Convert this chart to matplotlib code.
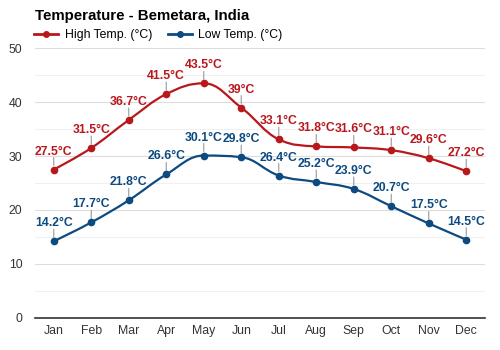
import numpy as np
import matplotlib.pyplot as plt
from matplotlib.path import Path
from matplotlib.patches import PathPatch
from matplotlib.lines import Line2D

months = ["Jan", "Feb", "Mar", "Apr", "May", "Jun", "Jul", "Aug", "Sep", "Oct", "Nov", "Dec"]
high_temp = [27.5, 31.5, 36.7, 41.5, 43.5, 39, 33.1, 31.8, 31.6, 31.1, 29.6, 27.2]
low_temp = [14.2, 17.7, 21.8, 26.6, 30.1, 29.8, 26.4, 25.2, 23.9, 20.7, 17.5, 14.5]

red = "#b8171c"
blue = "#0c4a80"
font = "Liberation Sans"


def spline_path(x, y, smoothing=1.5):
    # cubic bezier through the points, same control point rule as a highcharts spline
    x = [float(v) for v in x]
    y = [float(v) for v in y]
    n = len(x)
    left = [None] * n
    right = [None] * n
    for i in range(n):
        if i == 0 or i == n - 1:
            left[i] = right[i] = (x[i], y[i])
            continue
        d = smoothing + 1
        lx, ly = (smoothing * x[i] + x[i - 1]) / d, (smoothing * y[i] + y[i - 1]) / d
        rx, ry = (smoothing * x[i] + x[i + 1]) / d, (smoothing * y[i] + y[i + 1]) / d
        corr = (ry - ly) * (rx - x[i]) / (rx - lx) + y[i] - ry
        ly += corr
        ry += corr
        if ly > max(y[i - 1], y[i]):
            ly = max(y[i - 1], y[i])
            ry = 2 * y[i] - ly
        elif ly < min(y[i - 1], y[i]):
            ly = min(y[i - 1], y[i])
            ry = 2 * y[i] - ly
        if ry > max(y[i + 1], y[i]):
            ry = max(y[i + 1], y[i])
            ly = 2 * y[i] - ry
        elif ry < min(y[i + 1], y[i]):
            ry = min(y[i + 1], y[i])
            ly = 2 * y[i] - ry
        left[i] = (lx, ly)
        right[i] = (rx, ry)
    verts = [(x[0], y[0])]
    codes = [Path.MOVETO]
    for i in range(1, n):
        verts += [right[i - 1], left[i], (x[i], y[i])]
        codes += [Path.CURVE4] * 3
    return Path(verts, codes)


fig = plt.figure(figsize=(5, 3.5), dpi=100)
ax = fig.add_axes([0.07, 0.092, 0.9, 0.77])

xs = np.arange(len(months))
for vals, col in [(high_temp, red), (low_temp, blue)]:
    ax.add_patch(PathPatch(spline_path(xs, vals), fill=False, edgecolor=col, lw=1.6, zorder=3))
    ax.plot(xs, vals, "o", color=col, ms=4.5, zorder=4)
    for xi, v in zip(xs, vals):
        ax.annotate("", xy=(xi, v), xytext=(0, 12), textcoords="offset pixels",
                    arrowprops=dict(arrowstyle="-", color="#999999", lw=0.8, shrinkA=0, shrinkB=3),
                    zorder=2)
        ax.annotate(f"{v:g}°C", xy=(xi, v), xytext=(0, 12), textcoords="offset pixels",
                    ha="center", va="bottom", color=col, fontsize=8.8, fontweight="bold",
                    family=font, zorder=5)

ax.set_xlim(-0.5, 11.5)
ax.set_ylim(0, 50)
ax.set_yticks([0, 10, 20, 30, 40, 50])
ax.set_yticks(np.arange(5, 50, 10), minor=True)
ax.set_xticks(xs)
ax.set_xticklabels(months)
ax.grid(axis="y", which="major", color="#dddddd", lw=0.8)
ax.grid(axis="y", which="minor", color="#f0f0f0", lw=0.8)
ax.set_axisbelow(True)
for s in ["top", "right", "left"]:
    ax.spines[s].set_visible(False)
ax.spines["bottom"].set_color("#333333")
ax.spines["bottom"].set_linewidth(1.2)
ax.tick_params(axis="both", which="both", length=0, labelsize=8.8, labelcolor="#333333")
ax.tick_params(axis="x", pad=5)
ax.tick_params(axis="y", pad=9)
for t in ax.get_xticklabels() + ax.get_yticklabels():
    t.set_family(font)

fig.text(0.07, 0.955, "Temperature - Bemetara, India", fontsize=10.8, fontweight="bold",
         family=font, va="center")

handles = [Line2D([], [], color=red, marker="o", ms=4, lw=2),
           Line2D([], [], color=blue, marker="o", ms=4, lw=2)]
fig.legend(handles, ["High Temp. (°C)", "Low Temp. (°C)"], loc="center left",
           bbox_to_anchor=(0.046, 0.9), ncol=2, frameon=False, handlelength=2.0,
           handletextpad=0.5, columnspacing=1.3, prop={"family": font, "size": 8.8})

fig.savefig("out.png", dpi=100, facecolor="white")
